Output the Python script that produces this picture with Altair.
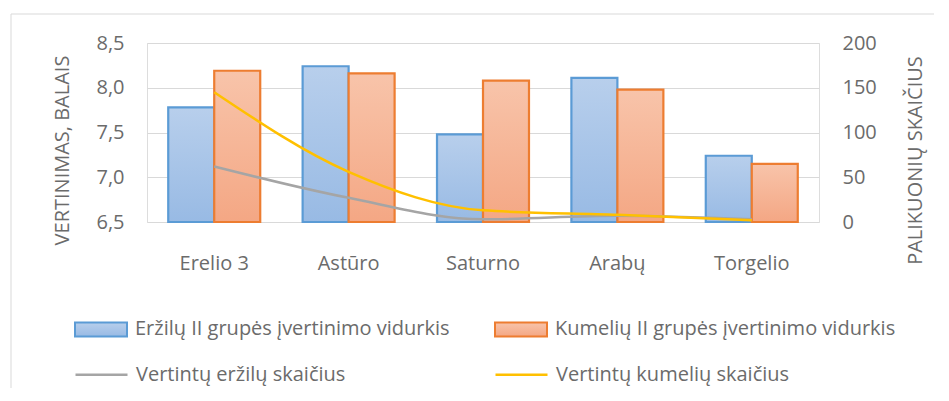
import altair as alt
import pandas as pd

# ---- data ----
cats = ["Erelio 3", "Astūro", "Saturno", "Arabų", "Torgelio"]
bar_series = ["Eržilų II grupės įvertinimo vidurkis", "Kumelių II grupės įvertinimo vidurkis"]
line_series = ["Vertintų eržilų skaičius", "Vertintų kumelių skaičius"]
erz_avg = [7.78, 8.24, 7.48, 8.11, 7.24]
kum_avg = [8.19, 8.16, 8.08, 7.98, 7.15]
erz_cnt = [62, 27, 3, 7, 3]
kum_cnt = [145, 56, 13, 8, 2]
left_ticks = [6.5, 7.0, 7.5, 8.0, 8.5]
right_ticks = [0, 50, 100, 150, 200]

bars_df = pd.DataFrame({
    "kat": cats * 2,
    "serija": [bar_series[0]] * len(cats) + [bar_series[1]] * len(cats),
    "vidurkis": erz_avg + kum_avg,
})
lines_df = pd.DataFrame({
    "kat": cats * 2,
    "serija": [line_series[0]] * len(cats) + [line_series[1]] * len(cats),
    "skaicius": erz_cnt + kum_cnt,
})

FONT = "Open Sans"
TXT = "#6b6b6b"
GRID = "#D9D9D9"


def grad(top, bottom):
    return {"expr": "{gradient: 'linear', x1: 0, y1: 0, x2: 0, y2: 1, stops: ["
                    f"{{offset: 0, color: '{top}'}}, {{offset: 1, color: '{bottom}'}}]}}"}


x_axis = alt.Axis(labelAngle=0, ticks=False, domain=False, grid=False, labelPadding=31,
                  labelFontSize=20, labelColor=TXT, labelFont=FONT)
x_scale = alt.Scale(paddingInner=0.3155, paddingOuter=0.158)

bar_legend = alt.Legend(title=None, orient="none", legendX=-73, legendY=259,
                        direction="horizontal", columns=2, columnPadding=41,
                        symbolType="M-1,-0.27H1V0.27H-1Z", symbolSize=2704,
                        symbolStrokeWidth=2, labelFont=FONT, labelFontSize=20,
                        labelColor=TXT, labelOffset=7, padding=0, labelLimit=600)
line_legend = alt.Legend(title=None, orient="none", legendX=-73, legendY=304,
                         direction="horizontal", columns=2, columnPadding=144,
                         symbolType="stroke", symbolSize=2704,
                         symbolStrokeWidth=2.5, labelFont=FONT, labelFontSize=20,
                         labelColor=TXT, labelOffset=7, padding=0, labelLimit=600)

bars = alt.Chart(bars_df).mark_bar(strokeWidth=2.2).encode(
    x=alt.X("kat:N", sort=cats, title=None, scale=x_scale, axis=x_axis),
    xOffset=alt.XOffset("serija:N", sort=bar_series,
                        scale=alt.Scale(domain=bar_series, paddingInner=0, paddingOuter=0)),
    y=alt.Y("vidurkis:Q",
            scale=alt.Scale(domain=[left_ticks[0], left_ticks[-1]], zero=False, nice=False),
            axis=alt.Axis(values=left_ticks,
                          labelExpr="replace(format(datum.value, '.1f'), '.', ',')",
                          ticks=False, domain=False, grid=True, gridColor=GRID, gridWidth=1,
                          labelPadding=23, labelFontSize=20, labelColor=TXT, labelFont=FONT,
                          title="VERTINIMAS, BALAIS", titleFont=FONT, titleFontSize=20,
                          titleFontWeight="normal", titleColor=TXT, titleAngle=270,
                          titleX=-85, titleY=107, titleAlign="center", titleBaseline="middle")),
    y2=alt.Y2Datum(left_ticks[0]),
    fill=alt.Fill("serija:N", sort=bar_series,
                  scale=alt.Scale(domain=bar_series,
                                  range=[grad("#B8CFEC", "#98BAE4"), grad("#F8C4AA", "#F4A784")]),
                  legend=bar_legend),
    stroke=alt.Stroke("serija:N", sort=bar_series,
                      scale=alt.Scale(domain=bar_series, range=["#5B9BD5", "#ED7D31"]),
                      legend=bar_legend),
)

lines = alt.Chart(lines_df).mark_line(interpolate="monotone", strokeWidth=2.5).encode(
    x=alt.X("kat:N", sort=cats, title=None, scale=x_scale, axis=x_axis),
    y=alt.Y("skaicius:Q",
            scale=alt.Scale(domain=[right_ticks[0], right_ticks[-1]], nice=False),
            axis=alt.Axis(orient="right", values=right_ticks, ticks=False, domain=False, grid=False,
                          labelPadding=23, labelFontSize=20, labelColor=TXT, labelFont=FONT,
                          title="PALIKUONIŲ SKAIČIUS", titleFont=FONT, titleFontSize=20,
                          titleFontWeight="normal", titleColor=TXT, titleAngle=270,
                          titleX=96, titleY=117, titleAlign="center", titleBaseline="middle")),
    color=alt.Color("serija:N", sort=line_series,
                    scale=alt.Scale(domain=line_series, range=["#A5A5A5", "#FFC000"]),
                    legend=line_legend),
)

frame_df = pd.DataFrame({"k": [0]})
top_rule = alt.Chart(frame_df).mark_rule(color=GRID, strokeWidth=1).encode(
    x=alt.value(-136), x2=alt.value(900), y=alt.value(-29))
left_rule = alt.Chart(frame_df).mark_rule(color=GRID, strokeWidth=1).encode(
    x=alt.value(-136), y=alt.value(-29), y2=alt.value(420))

chart = alt.layer(top_rule, left_rule, bars, lines).resolve_scale(
    y="independent"
).properties(
    width=672, height=179,
    autosize=alt.AutoSizeParams(type="none"),
    padding={"left": 139, "top": 35, "right": 115, "bottom": 166},
).configure_view(stroke=None).configure(background="white")

chart.save("out.html", embed_options={"renderer": "svg", "actions": False})
